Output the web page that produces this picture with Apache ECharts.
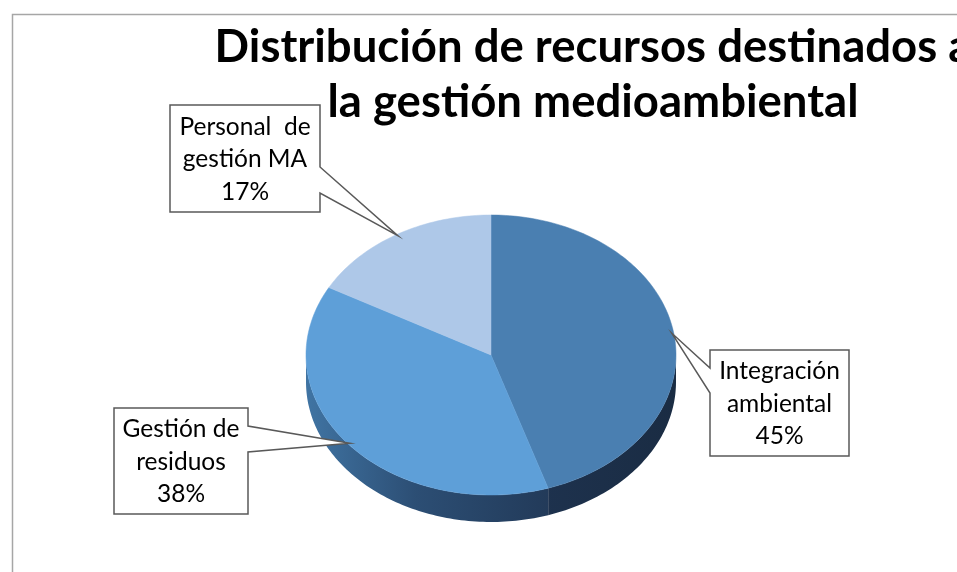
<!DOCTYPE html>
<html>
<head>
<meta charset="utf-8">
<script src="https://cdn.jsdelivr.net/npm/echarts@6/dist/echarts.min.js"></script>
<style>
  html, body { margin: 0; padding: 0; background: #fff; }
  #chart { width: 957px; height: 572px; }
</style>
</head>
<body>
<div id="chart"></div>
<script>
// datos
var categories = ['Integración ambiental', 'Gestión de residuos', 'Personal de gestión MA'];
var values = [45, 38, 17];
var labelNames = [['Integración', 'ambiental'], ['Gestión de', 'residuos'], ['Personal  de', 'gestión MA']];
var topColors = ['#4a7fb1', '#5e9fd8', '#aec8e8'];

// geometria de la tarta 3D (elipse)
var pie = { cx: 491, cy: 355, rx: 185, ry: 140, depth: 27 };
// cajas de las etiquetas (callout)
var boxes = [
  { x: 710, y: 350, w: 139, h: 106, side: 'left', w0: 368, w1: 393 },
  { x: 114, y: 408, w: 134, h: 106, side: 'right', w0: 426, w1: 452 },
  { x: 170, y: 105, w: 150, h: 107, side: 'right', w0: 167, w1: 193 }
];

var total = values.reduce(function (a, b) { return a + b; }, 0);

function ellPt(t, dy) {
  return [pie.cx + pie.rx * Math.cos(t), pie.cy + pie.ry * Math.sin(t) + (dy || 0)];
}
function arc(a, b, dy) {
  var pts = [], n = Math.max(4, Math.ceil(Math.abs(b - a) / 0.02));
  for (var k = 0; k <= n; k++) pts.push(ellPt(a + (b - a) * k / n, dy));
  return pts;
}
function sideFill(i) {
  if (i === 0) {
    return new echarts.graphic.LinearGradient(pie.cx, 0, pie.cx + pie.rx, 0, [
      { offset: 0, color: '#1f3452' }, { offset: 1, color: '#1a2c43' }], true);
  }
  return new echarts.graphic.LinearGradient(pie.cx - pie.rx, 0, pie.cx + 60, 0, [
    { offset: 0, color: '#4074a3' }, { offset: 0.45, color: '#2c4e74' },
    { offset: 1, color: '#223a59' }], true);
}

function renderSlice(params, api) {
  var i = params.dataIndex;
  var cum = 0;
  for (var j = 0; j < i; j++) cum += values[j];
  var a0 = -Math.PI / 2 + 2 * Math.PI * cum / total;
  var a1 = a0 + 2 * Math.PI * api.value(0) / total;
  var children = [];

  // cara lateral visible (mitad inferior)
  [-2 * Math.PI, 0, 2 * Math.PI].forEach(function (k) {
    var s = Math.max(a0, k), e = Math.min(a1, k + Math.PI);
    if (e > s) {
      var pts = arc(s, e, 0).concat(arc(e, s, pie.depth));
      children.push({ type: 'polygon', z2: 1, shape: { points: pts },
        style: { fill: sideFill(i), stroke: null } });
    }
  });

  // cara superior
  children.push({ type: 'polygon', z2: 2,
    shape: { points: [[pie.cx, pie.cy]].concat(arc(a0, a1, 0)) },
    style: { fill: topColors[i], stroke: topColors[i], lineWidth: 0.5 } });

  // etiqueta tipo callout
  var mid = (a0 + a1) / 2;
  var tip = [pie.cx + pie.rx * 0.99 * Math.cos(mid), pie.cy + pie.ry * 0.99 * Math.sin(mid)];
  var b = boxes[i], pts;
  if (b.side === 'right') {
    pts = [[b.x, b.y], [b.x + b.w, b.y], [b.x + b.w, b.w0], tip, [b.x + b.w, b.w1],
      [b.x + b.w, b.y + b.h], [b.x, b.y + b.h]];
  } else {
    pts = [[b.x, b.y], [b.x + b.w, b.y], [b.x + b.w, b.y + b.h], [b.x, b.y + b.h],
      [b.x, b.w1], tip, [b.x, b.w0]];
  }
  children.push({ type: 'polygon', z2: 10, shape: { points: pts },
    style: { fill: '#fff', stroke: '#595959', lineWidth: 1.5 } });
  var pct = Math.round(api.value(0) / total * 100) + '%';
  children.push({ type: 'text', z2: 11,
    style: { text: labelNames[i].concat([pct]).join('\n'),
      x: b.x + b.w / 2, y: b.y + b.h / 2 + 1, align: 'center', verticalAlign: 'middle',
      font: '24.5px Lato', lineHeight: 32.5, fill: '#000' } });

  return { type: 'group', children: children };
}

var chart = echarts.init(document.getElementById('chart'));
chart.setOption({
  animation: false,
  title: {
    text: 'Distribución de recursos destinados a\nla gestión medioambiental',
    left: 588, top: 15, textAlign: 'center',
    textStyle: { fontFamily: 'Lato', fontWeight: 'bold', fontSize: 45.5, lineHeight: 55, color: '#000' }
  },
  graphic: [{
    type: 'rect', left: 10, top: 12, z: -1,
    shape: { width: 1200, height: 1000 },
    style: { fill: null, stroke: '#a6a6a6', lineWidth: 1.5 }
  }],
  series: [{
    type: 'custom',
    coordinateSystem: 'none',
    data: values.map(function (v, i) { return { name: categories[i], value: [v] }; }),
    renderItem: renderSlice
  }]
});
</script>
</body>
</html>
